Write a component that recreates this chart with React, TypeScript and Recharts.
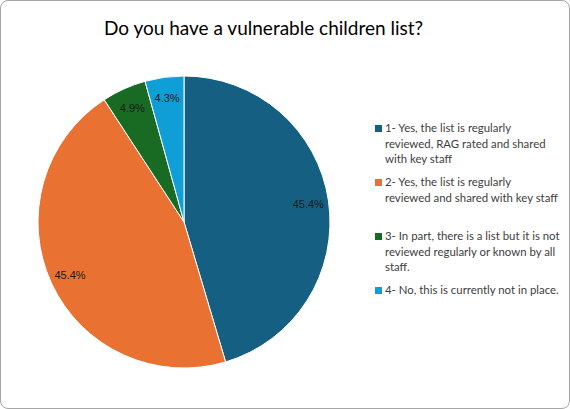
import { Legend, Pie, PieChart, Cell } from 'recharts';

// line breaks follow the wrapping seen in the original legend
const categories = [
  '1- Yes, the list is regularly\nreviewed, RAG rated and shared\nwith key staff',
  '2- Yes, the list is regularly\nreviewed and shared with key staff',
  '3- In part, there is a list but it is not\nreviewed regularly or known by all\nstaff.',
  '4- No, this is currently not in place.',
];
const shares = [45.4, 45.4, 4.9, 4.3];
const colors = ['#156082', '#E97132', '#196B24', '#0F9ED5'];

const data = categories.map((name, i) => ({ name, value: shares[i] }));

const RADIAN = Math.PI / 180;

function renderLabel(props: any) {
  const { cx, cy, midAngle, outerRadius, value } = props;
  const r = outerRadius * 0.86;
  const x = cx + r * Math.cos(-midAngle * RADIAN);
  const y = cy + r * Math.sin(-midAngle * RADIAN);
  return (
    <text
      x={x}
      y={y}
      fill="#1a1a1a"
      textAnchor="middle"
      dominantBaseline="central"
      fontSize={11}
      fontFamily="'Liberation Sans', Arial, sans-serif"
    >
      {`${value.toFixed(1)}%`}
    </text>
  );
}

function LegendContent() {
  return (
    <div style={{ fontFamily: 'Lato, sans-serif', fontSize: 11.4, color: '#404040' }}>
      {categories.map((name, i) => (
        <div
          key={name}
          style={{ position: 'relative', height: 54, paddingLeft: 10, lineHeight: '15.5px', whiteSpace: 'pre-line' }}
        >
          <span
            style={{
              position: 'absolute',
              left: 0,
              top: 5,
              width: 7,
              height: 7,
              background: colors[i],
            }}
          />
          {name}
        </div>
      ))}
    </div>
  );
}

export default function App() {
  return (
    <div
      style={{
        position: 'absolute',
        left: 0,
        top: 0,
        width: 568,
        height: 407,
        border: '1px solid #a6a6a6',
        borderRadius: 8,
        background: '#fff',
        overflow: 'hidden',
      }}
    >
      <div
        style={{
          position: 'absolute',
          left: 103,
          top: 15,
          whiteSpace: 'nowrap',
          fontFamily: 'Lato, sans-serif',
          fontSize: 19,
          color: '#000',
        }}
      >
        Do you have a vulnerable children list?
      </div>
      <PieChart
        width={568}
        height={407}
        margin={{ top: 0, right: 0, bottom: 0, left: 0 }}
        style={{ position: 'absolute', left: 0, top: 0 }}
      >
        <Pie
          data={data}
          dataKey="value"
          nameKey="name"
          cx={183}
          cy={221}
          outerRadius={146}
          startAngle={90}
          endAngle={-270}
          stroke="#fff"
          strokeWidth={1}
          label={renderLabel}
          labelLine={false}
          isAnimationActive={false}
        >
          {data.map((d, i) => (
            <Cell key={d.name} fill={colors[i]} />
          ))}
        </Pie>
        <Legend
          content={<LegendContent />}
          wrapperStyle={{ position: 'absolute', left: 374, top: 119, width: 192 }}
        />
      </PieChart>
    </div>
  );
}
